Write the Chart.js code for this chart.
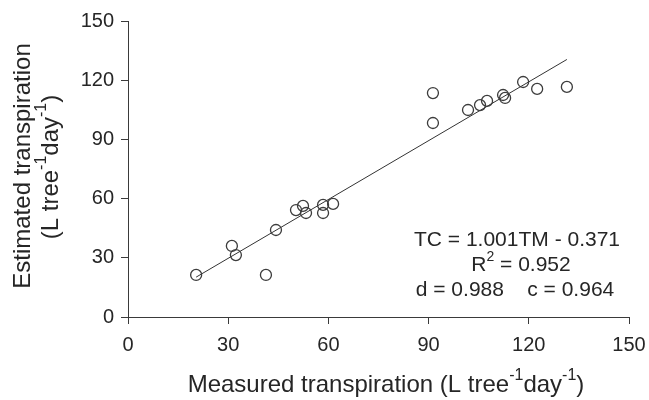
<!DOCTYPE html>
<html>
<head>
<meta charset="utf-8">
<script src="https://cdn.jsdelivr.net/npm/chart.js@4.4.1/dist/chart.umd.min.js"></script>
<style>
  html, body { margin: 0; padding: 0; background: #ffffff; }
  #wrap { width: 649px; height: 400px; }
</style>
</head>
<body>
<div id="wrap"><canvas id="c" width="649" height="400"></canvas></div>
<script>
// ---- data ----
const measured  = [20.4, 31.1, 32.3, 41.3, 44.3, 50.3, 52.4, 53.3, 58.4, 58.4, 61.4, 91.3, 91.3, 101.8, 105.4, 107.5, 112.3, 112.9, 118.3, 122.5, 131.4];
const estimated = [21.3, 36.0, 31.4, 21.3, 44.1, 54.2, 56.3, 52.7, 52.7, 56.8, 57.3, 113.5, 98.3, 104.9, 107.4, 109.5, 112.5, 111.0, 119.1, 115.6, 116.6];
const fitX = [20.4, 131.4];
const fitY = [20.2, 130.5];
const tickValues = [0, 30, 60, 90, 120, 150];
const xTitle = [["Measured transpiration (L tree"], ["-1", "sup"], ["day"], ["-1", "sup"], [")"]];
const yTitle1 = [["Estimated transpiration"]];
const yTitle2 = [["(L tree"], ["-1", "sup"], ["day"], ["-1", "sup"], [")"]];
const annotLine1 = [["TC = 1.001TM - 0.371"]];
const annotLine2 = [["R"], ["2", "sup"], [" = 0.952"]];
const annotLine3 = [["d = 0.988    c = 0.964"]];

const FONT = "'Liberation Sans', Arial, sans-serif";
const TEXT = "#262626";
const AXIS = "#3a3a3a";

const scatterPts = measured.map((x, i) => ({ x: x, y: estimated[i] }));
const fitPts = fitX.map((x, i) => ({ x: x, y: fitY[i] }));

function richWidth(ctx, segs, size) {
  let w = 0;
  for (const s of segs) {
    ctx.font = (s[1] === "sup" ? Math.round(size * 0.65) : size) + "px " + FONT;
    w += ctx.measureText(s[0]).width;
  }
  return w;
}
function drawRich(ctx, segs, cx, cy, size) {
  const w = richWidth(ctx, segs, size);
  let x = cx - w / 2;
  ctx.textBaseline = "middle";
  ctx.textAlign = "left";
  for (const s of segs) {
    const sup = s[1] === "sup";
    ctx.font = (sup ? Math.round(size * 0.65) : size) + "px " + FONT;
    ctx.fillText(s[0], x, sup ? cy - size * 0.38 : cy);
    x += ctx.measureText(s[0]).width;
  }
}

const textPlugin = {
  id: "texts",
  afterDraw(chart) {
    const ctx = chart.ctx;
    const a = chart.chartArea;
    ctx.save();
    ctx.fillStyle = TEXT;
    // x title
    drawRich(ctx, xTitle, 386, 385, 24);
    // y title (rotated)
    ctx.save();
    ctx.translate(23, 166);
    ctx.rotate(-Math.PI / 2);
    drawRich(ctx, yTitle1, 0, 0, 24);
    ctx.restore();
    ctx.save();
    ctx.translate(51, 167);
    ctx.rotate(-Math.PI / 2);
    drawRich(ctx, yTitle2, 0, 0, 24);
    ctx.restore();
    // annotation
    drawRich(ctx, annotLine1, a.left + 389, 240, 21);
    drawRich(ctx, annotLine2, a.left + 393, 265, 21);
    drawRich(ctx, annotLine3, a.left + 387, 290, 21);
    ctx.restore();
  }
};

const axisCommon = {
  type: "linear",
  min: 0,
  max: 150,
  afterBuildTicks(scale) { scale.ticks = tickValues.map(v => ({ value: v })); },
  grid: { drawOnChartArea: false, drawTicks: true, tickLength: 7, color: AXIS, lineWidth: 1 },
  border: { display: true, color: AXIS, width: 1 },
};

new Chart(document.getElementById("c"), {
  type: "scatter",
  data: {
    datasets: [
      {
        type: "line",
        data: fitPts,
        borderColor: "#333333",
        borderWidth: 1,
        pointRadius: 0,
        fill: false,
        order: 2
      },
      {
        type: "scatter",
        data: scatterPts,
        pointStyle: "circle",
        pointRadius: 5.5,
        pointBorderWidth: 1.3,
        pointBorderColor: "#3c3c3c",
        pointBackgroundColor: "rgba(255,255,255,0)",
        order: 1
      }
    ]
  },
  options: {
    responsive: false,
    animation: false,
    devicePixelRatio: 1,
    layout: { padding: { left: 0, right: 20, top: 21, bottom: 0 } },
    plugins: { legend: { display: false }, tooltip: { enabled: false } },
    scales: {
      x: Object.assign({}, axisCommon, {
        position: "bottom",
        ticks: { color: TEXT, font: { family: FONT, size: 20 }, padding: 9, maxRotation: 0 },
        afterFit(scale) { scale.height = 83; scale.paddingLeft = 0; scale.paddingRight = 0; }
      }),
      y: Object.assign({}, axisCommon, {
        position: "left",
        ticks: { color: TEXT, font: { family: FONT, size: 20 }, padding: 7 },
        afterFit(scale) { scale.width = 128; scale.paddingTop = 0; scale.paddingBottom = 0; }
      })
    }
  },
  plugins: [textPlugin]
});
</script>
</body>
</html>
